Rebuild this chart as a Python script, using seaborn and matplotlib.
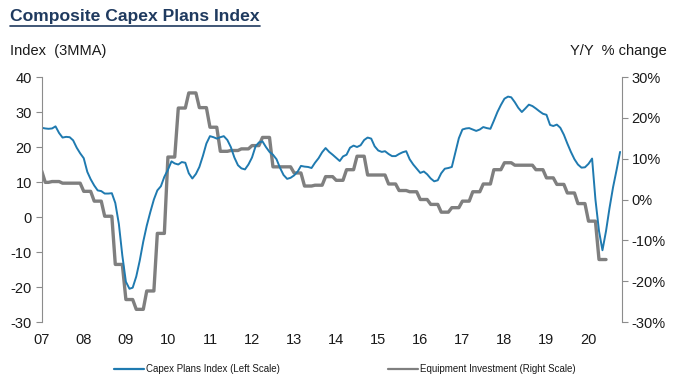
import numpy as np
import pandas as pd
import matplotlib
matplotlib.use('Agg')
import matplotlib.pyplot as plt
import matplotlib.dates as mdates
from matplotlib.ticker import FuncFormatter, MultipleLocator
from matplotlib.lines import Line2D
import seaborn as sns

# Composite capex plans index, 3MMA, monthly from Jan 2007 (left scale)
capex_plans = [
    25.5, 25.3, 25.2, 25.3, 25.9, 24.0, 22.7, 22.9, 22.8, 21.9,
    19.8, 18.2, 16.8, 12.9, 10.8, 9.0, 7.6, 7.4, 6.7, 6.7,
    6.8, 4.0, -2.0, -11.0, -18.5, -20.5, -20.2, -17.0, -12.5, -7.0,
    -2.5, 1.4, 5.0, 7.6, 8.8, 11.5, 13.5, 15.9, 15.3, 15.0,
    15.7, 15.5, 12.5, 11.0, 12.3, 14.3, 17.5, 21.0, 23.1, 22.8,
    22.4, 22.8, 23.1, 22.0, 20.0, 17.0, 14.8, 13.9, 13.6, 15.0,
    17.0, 20.2, 21.3, 21.6, 20.0, 18.6, 17.8, 16.5, 14.0, 12.0,
    10.9, 11.2, 11.9, 13.0, 14.6, 14.4, 14.3, 14.0, 15.5, 16.8,
    18.5, 19.7, 18.6, 17.8, 16.9, 16.0, 17.3, 17.8, 19.8, 20.4,
    20.0, 20.5, 22.0, 22.7, 22.4, 20.2, 19.0, 18.6, 18.8, 18.0,
    17.4, 17.4, 18.0, 18.5, 18.8, 16.5, 15.0, 13.8, 12.6, 13.0,
    12.2, 11.0, 10.2, 10.5, 12.5, 13.8, 14.0, 14.3, 18.5, 22.5,
    25.0, 25.3, 25.4, 25.0, 24.6, 25.0, 25.7, 25.4, 25.2, 27.5,
    30.0, 32.0, 33.8, 34.4, 34.2, 32.8, 31.2, 30.0, 31.0, 32.1,
    31.7, 31.0, 30.2, 29.5, 29.2, 26.3, 26.0, 26.4, 25.5, 23.5,
    21.0, 18.6, 16.5, 15.0, 14.1, 14.2, 15.2, 16.7, 5.0, -4.0,
    -9.5, -4.0, 2.5, 8.5, 13.5, 18.6,
]

# Equipment investment, Y/Y %, quarterly 2007Q1 - 2020Q2 (right scale)
equip_first_month = 7.0
equip_quarterly = [
    4.2, 4.4, 4.0, 4.0,
    2.0, -0.4, -4.1, -15.9,
    -24.5, -26.9, -22.4, -8.3,
    10.4, 22.4, 26.1, 22.5,
    17.7, 11.8, 12.0, 12.4,
    13.2, 15.2, 8.0, 8.0,
    6.5, 3.3, 3.5, 5.6,
    4.7, 7.3, 10.6, 6.0,
    6.0, 3.8, 2.2, 1.9,
    0.0, -1.2, -3.1, -2.0,
    -0.4, 1.9, 3.8, 7.3,
    9.0, 8.4, 8.4, 7.3,
    5.3, 3.7, 1.6, -1.0,
    -5.3, -14.7,
]

months = pd.date_range('2007-01-01', periods=len(capex_plans), freq='MS')
equip_monthly = np.repeat(equip_quarterly, 3).astype(float)
equip_monthly[0] = equip_first_month

df_capex = pd.DataFrame({'date': months, 'value': capex_plans})
df_equip = pd.DataFrame({'date': months[:len(equip_monthly)], 'value': equip_monthly})

BLUE = '#1F7AB0'
GREY = '#7F7F7F'
AXIS = '#8C8C8C'
TEXT = '#1A1A1A'

sns.set_style('white')
plt.rcParams['font.family'] = ['Liberation Sans', 'DejaVu Sans']
plt.rcParams['axes.unicode_minus'] = False

fig = plt.figure(figsize=(6.77, 3.86), dpi=100)
ax = fig.add_axes([0.0616, 0.1658, 0.8567, 0.6347])
ax2 = ax.twinx()

sns.lineplot(data=df_capex, x='date', y='value', ax=ax, color=BLUE, linewidth=1.4,
             label='Capex Plans Index (Left Scale)', legend=False)
sns.lineplot(data=df_equip, x='date', y='value', ax=ax2, color=GREY, linewidth=2.4,
             label='Equipment Investment (Right Scale)', legend=False)
ax.set_zorder(ax2.get_zorder() + 1)
ax.patch.set_visible(False)

ax.set_ylim(-30, 40)
ax.yaxis.set_major_locator(MultipleLocator(10))
ax2.set_ylim(-30, 30)
ax2.yaxis.set_major_locator(MultipleLocator(10))
ax2.yaxis.set_major_formatter(FuncFormatter(lambda v, p: f'{v:.0f}%'))

ax.set_xlim(months[0], months[-1] + pd.Timedelta(days=14))
ax.xaxis.set_major_locator(mdates.YearLocator())
ax.xaxis.set_major_formatter(mdates.DateFormatter('%y'))

for a in (ax, ax2):
    a.set_xlabel('')
    a.set_ylabel('')
    for s in ('top', 'bottom'):
        a.spines[s].set_visible(False)
    a.spines['left'].set_color(AXIS)
    a.spines['right'].set_color(AXIS)
    a.grid(False)

ax.spines['right'].set_visible(False)
ax2.spines['left'].set_visible(False)

ax.tick_params(axis='y', direction='out', length=4, width=0.8, color=AXIS,
               labelsize=10.5, labelcolor=TEXT, pad=3, left=True)
ax.tick_params(axis='x', length=0, labelsize=10.5, labelcolor=TEXT, pad=8)
ax2.tick_params(axis='y', direction='out', length=4, width=0.8, color=AXIS,
                labelsize=10.5, labelcolor=TEXT, pad=3, right=True)

title = fig.text(0.015, 0.945, 'Composite Capex Plans Index', fontsize=12.6,
                 fontweight='bold', color='#1F3A5F', ha='left', va='baseline')
fig.text(0.015, 0.857, 'Index  (3MMA)', fontsize=10.5, color=TEXT, ha='left', va='baseline')
fig.text(0.985, 0.857, 'Y/Y  % change', fontsize=10.5, color=TEXT, ha='right', va='baseline')

# underline for the title
fig.canvas.draw()
bb = title.get_window_extent().transformed(fig.transFigure.inverted())
fig.add_artist(Line2D([bb.x0, bb.x1], [bb.y0 - 0.004, bb.y0 - 0.004],
                      transform=fig.transFigure, color='#1F3A5F', linewidth=1.2))

handles = [Line2D([], [], color=BLUE, linewidth=1.6),
           Line2D([], [], color=GREY, linewidth=1.6)]
labels = ['Capex Plans Index (Left Scale)', 'Equipment Investment (Right Scale)']
fig.legend(handles, labels, loc='center', bbox_to_anchor=(0.5096, 0.043), ncol=2,
           frameon=False, fontsize=7, handlelength=3.1, handletextpad=0.2,
           columnspacing=11.1, labelcolor=TEXT)

fig.savefig('out.png', dpi=100)
